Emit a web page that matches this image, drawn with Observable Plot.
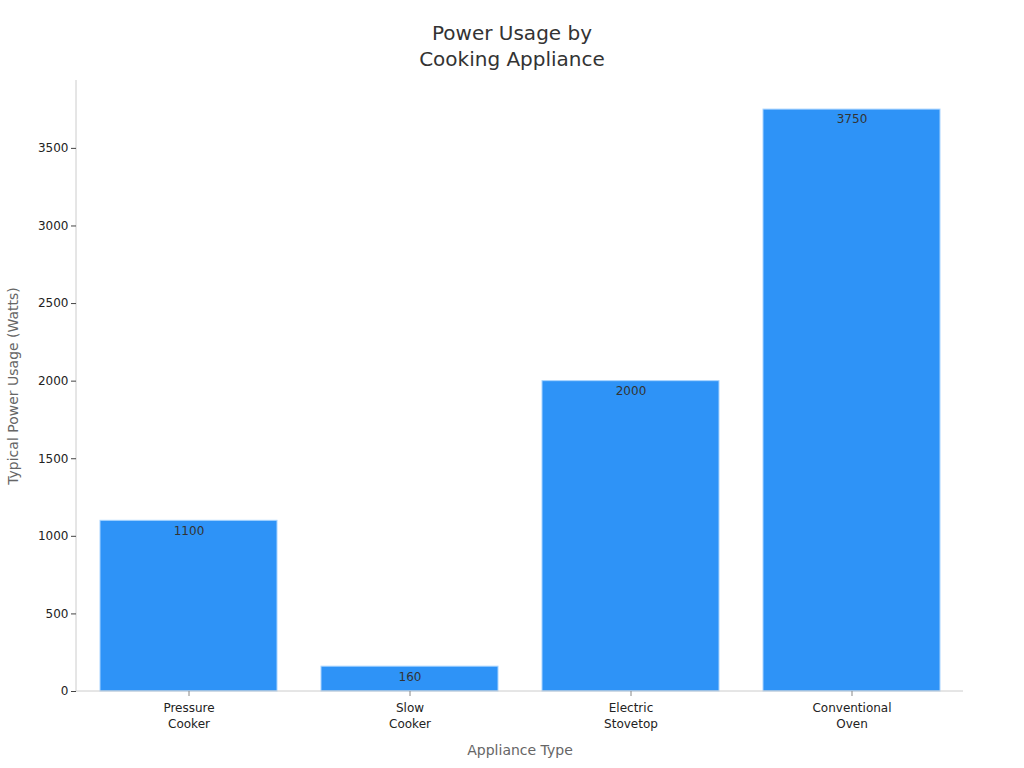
<!DOCTYPE html>
<html>
<head>
<meta charset="utf-8">
<script src="https://cdn.jsdelivr.net/npm/d3@7"></script>
<script src="https://cdn.jsdelivr.net/npm/@observablehq/plot@0.6"></script>
<style>
  html, body { margin: 0; padding: 0; background: white; }
  #wrap { position: relative; width: 1024px; height: 768px; font-family: "DejaVu Sans", sans-serif; }
  #title { position: absolute; top: 20px; left: 0; width: 1024px; text-align: center; font-size: 20px; line-height: 26px; color: #333; }
  #chart { position: absolute; top: 0; left: 0; }
</style>
</head>
<body>
<div id="wrap">
  <div id="chart"></div>
  <div id="title">Power Usage by<br>Cooking Appliance</div>
</div>
<script>
const appliances = ["Pressure\nCooker", "Slow\nCooker", "Electric\nStovetop", "Conventional\nOven"];
const watts = [1100, 160, 2000, 3750];
const yTicks = [0, 500, 1000, 1500, 2000, 2500, 3000, 3500];
const xLabel = "Appliance Type";
const yLabel = "Typical Power Usage (Watts)";

const data = appliances.map((a, i) => ({appliance: a, watts: watts[i]}));

const axisLines = (index, scales, values, dims) => {
  const g = d3.create("svg:g");
  const x0 = dims.marginLeft, x1 = dims.width - dims.marginRight;
  const y0 = dims.marginTop, y1 = dims.height - dims.marginBottom;
  g.append("line").attr("x1", x0).attr("x2", x0).attr("y1", y0).attr("y2", y1).attr("stroke", "#ccc");
  g.append("line").attr("x1", x0).attr("x2", x1).attr("y1", y1).attr("y2", y1).attr("stroke", "#ccc");
  return g.node();
};

const chart = Plot.plot({
  width: 1024,
  height: 768,
  marginTop: 80,
  marginBottom: 77,
  marginLeft: 76,
  marginRight: 61,
  style: {fontFamily: "DejaVu Sans, sans-serif", fontSize: "12px", color: "#333", background: "white"},
  x: {domain: appliances, paddingInner: 0.2, paddingOuter: 0.1, align: 0.5, label: null},
  y: {domain: [0, 3937.5], label: null},
  marks: [
    Plot.barY(data, {x: "appliance", y: "watts", fill: "#2E93F7", stroke: "#a8d4ff", strokeWidth: 1}),
    Plot.text(data, {x: "appliance", y: "watts", text: d => String(d.watts), dy: 10, fill: "#333", fontSize: 12}),
    axisLines,
    Plot.axisY({ticks: yTicks, tickFormat: d3.format("d"), tickSize: 5, tickPadding: 3, stroke: "#444", fill: "#222", label: null}),
    Plot.axisX({tickSize: 5, tickPadding: 4, stroke: "#888", fill: "#222", lineHeight: 1.33, label: null}),
    Plot.text([yLabel], {frameAnchor: "left", textAnchor: "middle", dx: -63, rotate: -90, fill: "#666", fontSize: 14, text: d => d}),
    Plot.text([xLabel], {frameAnchor: "bottom", dy: 63, fill: "#666", fontSize: 14, text: d => d})
  ]
});
document.getElementById("chart").appendChild(chart);
</script>
</body>
</html>
